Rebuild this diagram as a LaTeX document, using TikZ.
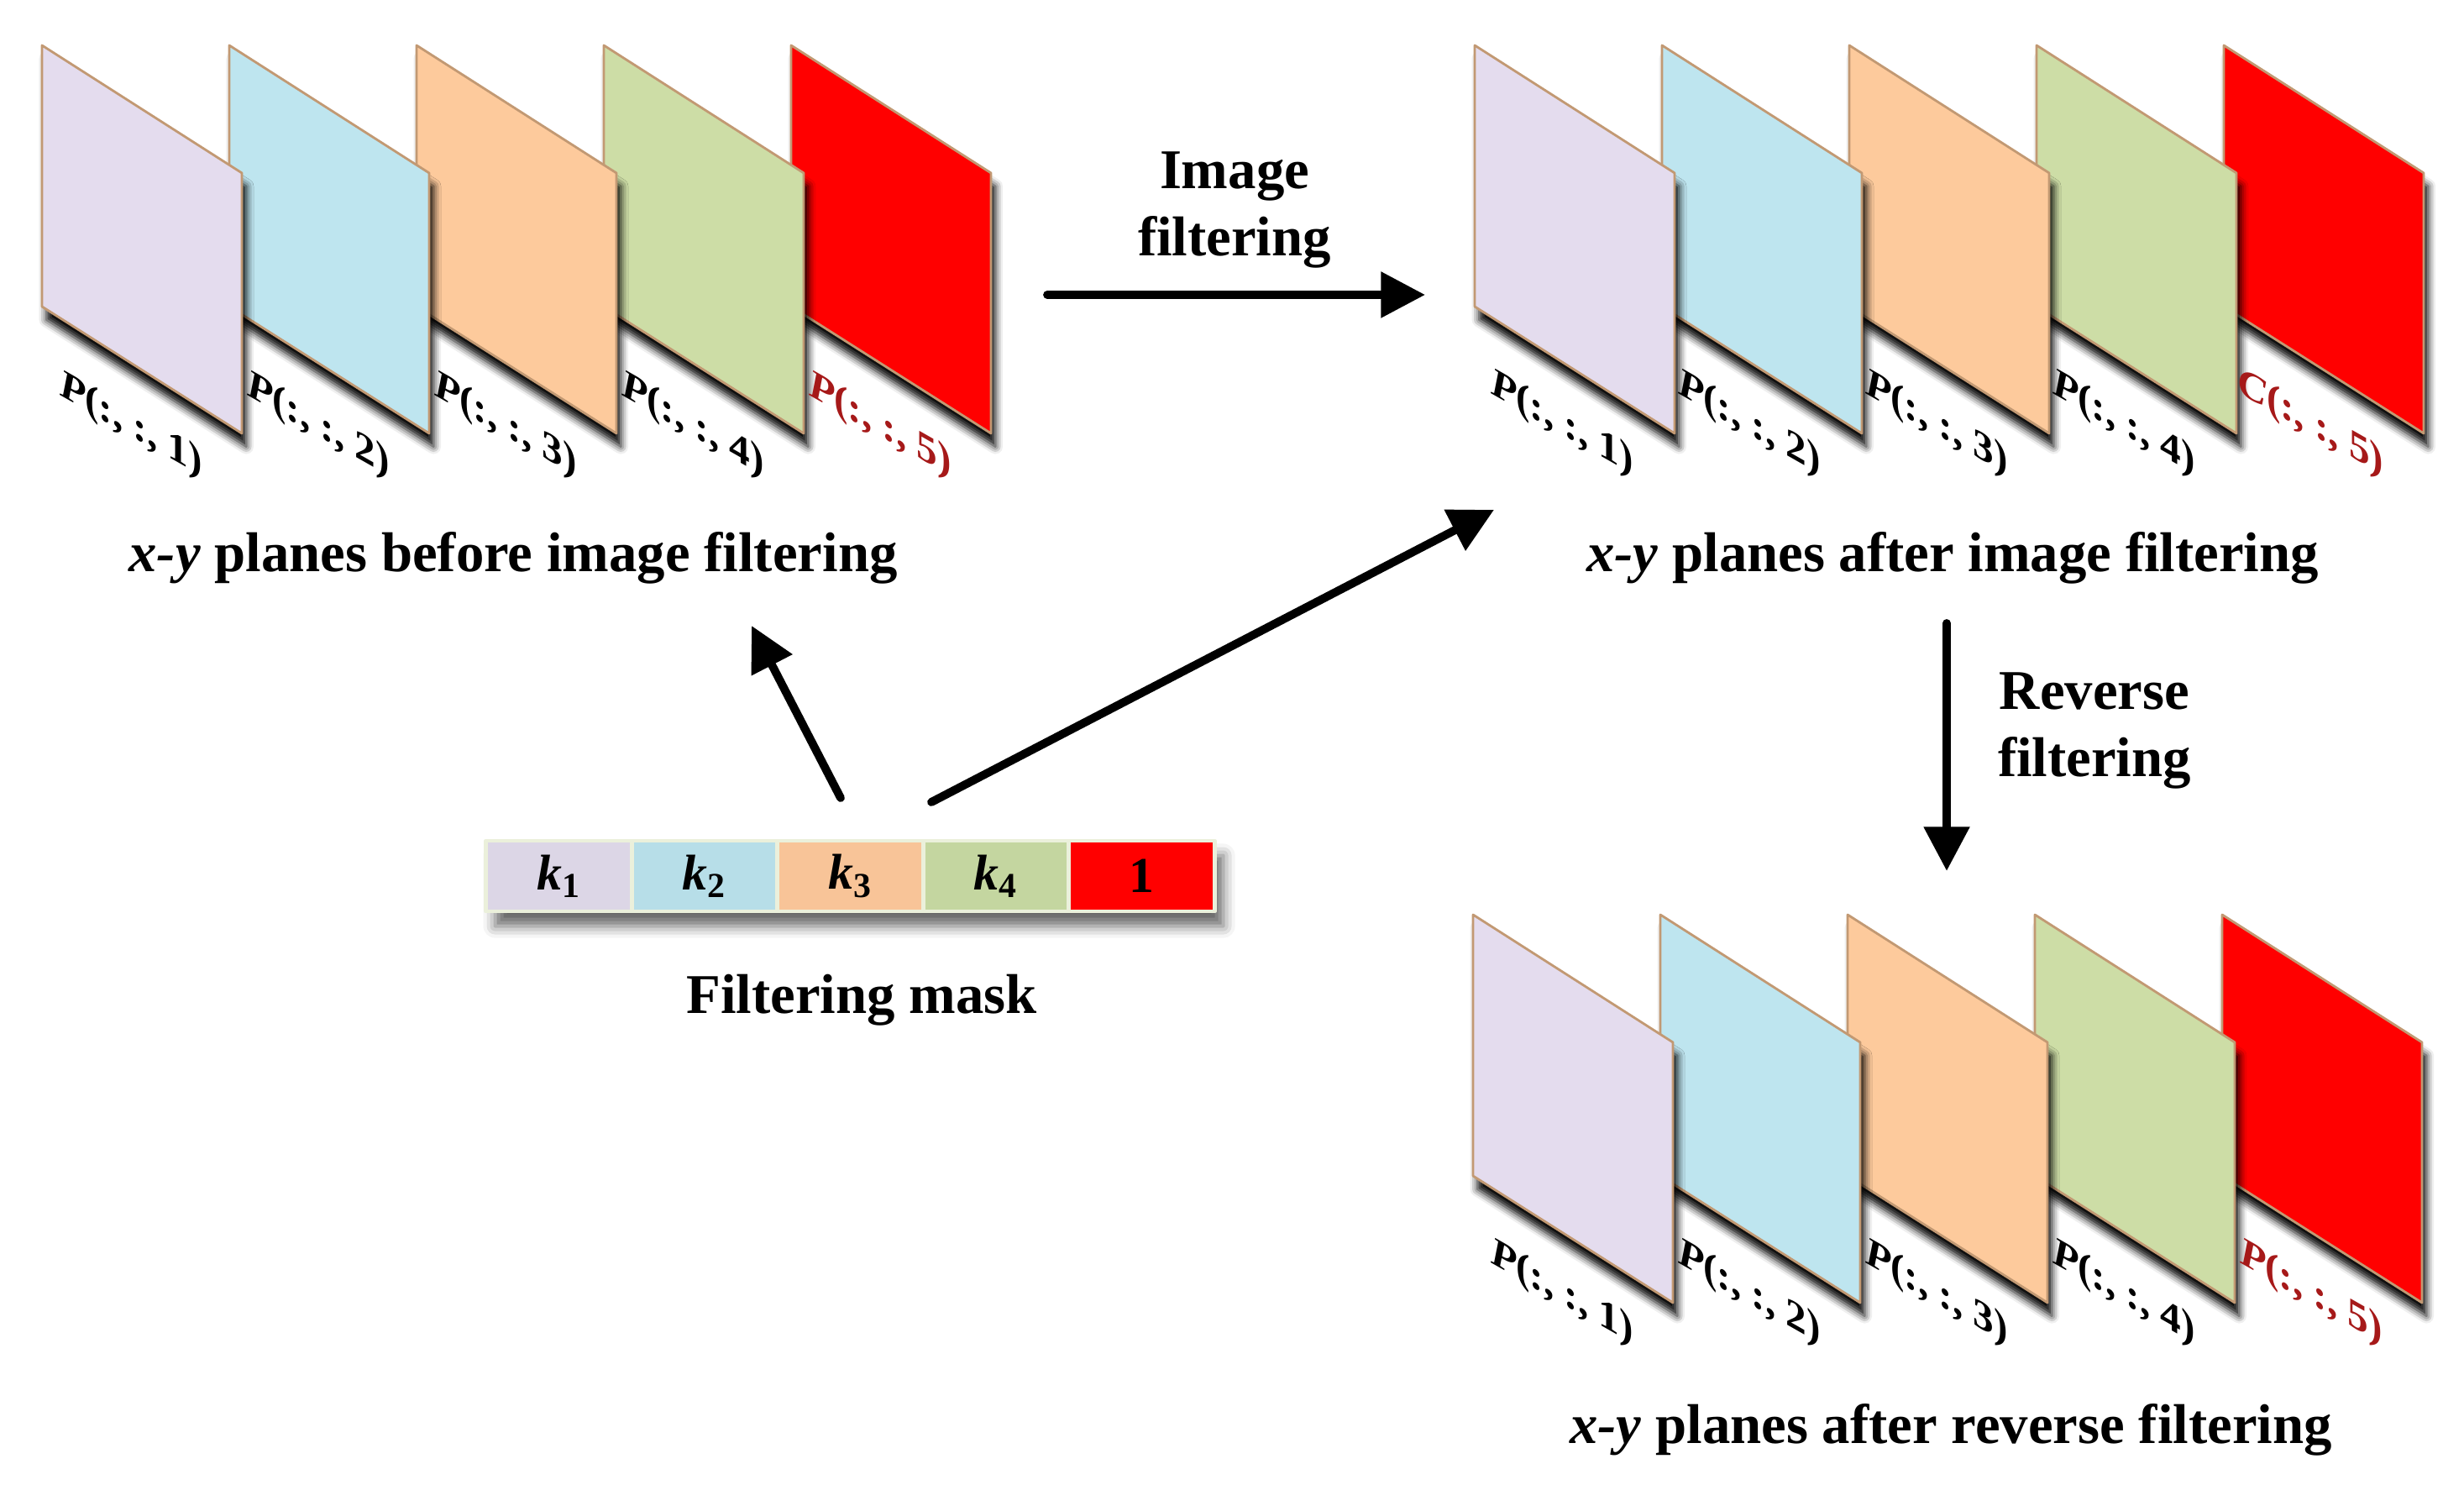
\documentclass[tikz,border=0pt]{standalone}
\usepackage{amsmath}
\usepackage{fontspec}
\setmainfont{Liberation Serif}
\usetikzlibrary{arrows.meta,shadows.blur}
\definecolor{lilac}{rgb}{0.894,0.863,0.933}
\definecolor{skyb}{rgb}{0.745,0.898,0.937}
\definecolor{peach}{rgb}{0.992,0.792,0.612}
\definecolor{sage}{rgb}{0.804,0.867,0.651}
\definecolor{lilacm}{rgb}{0.863,0.839,0.902}
\definecolor{skybm}{rgb}{0.718,0.871,0.910}
\definecolor{peachm}{rgb}{0.973,0.769,0.596}
\definecolor{sagem}{rgb}{0.769,0.839,0.627}
\definecolor{rred}{rgb}{1.,0.,0.}
\definecolor{edgeb}{rgb}{0.76,0.60,0.45}
\definecolor{dred}{rgb}{0.65,0.1,0.1}
\definecolor{maskf}{rgb}{0.92,0.94,0.86}

\begin{document}
\begin{tikzpicture}[line cap=round,line join=round,>={Triangle[length=15pt,width=15pt,fill=black]},x=1.0cm,y=1.0cm,
  plane/.style={draw=edgeb,line width=0.8pt,blur shadow={shadow xshift=1.5pt,shadow yshift=-4.5pt,shadow blur radius=2.5pt,shadow opacity=100}},
  lab/.style={font=\fontsize{14}{16}\selectfont\bfseries,yslant=-0.57,transform shape,inner sep=1pt},
  txt/.style={font=\fontsize{19}{23}\selectfont\bfseries,inner sep=1pt},
  cell/.style={minimum width=1.735cm,minimum height=0.84cm,inner sep=0pt,draw=maskf,line width=1.4pt,font=\fontsize{17}{17}\selectfont},
  flow/.style={->,line width=2.8pt,line join=miter}]
\useasboundingbox (0,0) rectangle (29.34,17.67);
% planes before filtering (drawn back to front)
\draw [plane,fill=rred] (9.42,17.13)-- (11.80,15.61)-- (11.80,12.51)-- (9.42,14.02)-- cycle;
\draw [plane,fill=sage] (7.19,17.13)-- (9.57,15.61)-- (9.57,12.51)-- (7.19,14.02)-- cycle;
\draw [plane,fill=peach] (4.96,17.13)-- (7.34,15.61)-- (7.34,12.51)-- (4.96,14.02)-- cycle;
\draw [plane,fill=skyb] (2.73,17.13)-- (5.11,15.61)-- (5.11,12.51)-- (2.73,14.02)-- cycle;
\draw [plane,fill=lilac] (0.50,17.13)-- (2.88,15.61)-- (2.88,12.51)-- (0.50,14.02)-- cycle;
\node [lab] (pa1) at (1.56,12.60) {\textit{P}(:, :, 1)};
\node [lab] (pa2) at (3.79,12.60) {\textit{P}(:, :, 2)};
\node [lab] (pa3) at (6.02,12.60) {\textit{P}(:, :, 3)};
\node [lab] (pa4) at (8.25,12.60) {\textit{P}(:, :, 4)};
\node [lab,text=dred] (pa5) at (10.48,12.60) {\textit{P}(:, :, 5)};
% planes after filtering
\draw [plane,fill=rred] (26.48,17.13)-- (28.86,15.61)-- (28.86,12.51)-- (26.48,14.02)-- cycle;
\draw [plane,fill=sage] (24.25,17.13)-- (26.63,15.61)-- (26.63,12.51)-- (24.25,14.02)-- cycle;
\draw [plane,fill=peach] (22.02,17.13)-- (24.40,15.61)-- (24.40,12.51)-- (22.02,14.02)-- cycle;
\draw [plane,fill=skyb] (19.79,17.13)-- (22.17,15.61)-- (22.17,12.51)-- (19.79,14.02)-- cycle;
\draw [plane,fill=lilac] (17.56,17.13)-- (19.94,15.61)-- (19.94,12.51)-- (17.56,14.02)-- cycle;
\node [lab] (pb1) at (18.60,12.62) {\textit{P}(:, :, 1)};
\node [lab] (pb2) at (20.83,12.62) {\textit{P}(:, :, 2)};
\node [lab] (pb3) at (23.06,12.62) {\textit{P}(:, :, 3)};
\node [lab] (pb4) at (25.29,12.62) {\textit{P}(:, :, 4)};
\node [lab,text=dred] (pb5) at (27.52,12.62) {\textit{C}(:, :, 5)};
% planes after reverse filtering
\draw [plane,fill=rred] (26.46,6.78)-- (28.84,5.26)-- (28.84,2.16)-- (26.46,3.67)-- cycle;
\draw [plane,fill=sage] (24.23,6.78)-- (26.61,5.26)-- (26.61,2.16)-- (24.23,3.67)-- cycle;
\draw [plane,fill=peach] (22.00,6.78)-- (24.38,5.26)-- (24.38,2.16)-- (22.00,3.67)-- cycle;
\draw [plane,fill=skyb] (19.77,6.78)-- (22.15,5.26)-- (22.15,2.16)-- (19.77,3.67)-- cycle;
\draw [plane,fill=lilac] (17.54,6.78)-- (19.92,5.26)-- (19.92,2.16)-- (17.54,3.67)-- cycle;
\node [lab] (pc1) at (18.60,2.27) {\textit{P}(:, :, 1)};
\node [lab] (pc2) at (20.83,2.27) {\textit{P}(:, :, 2)};
\node [lab] (pc3) at (23.06,2.27) {\textit{P}(:, :, 3)};
\node [lab] (pc4) at (25.29,2.27) {\textit{P}(:, :, 4)};
\node [lab,text=dred] (pc5) at (27.52,2.27) {\textit{P}(:, :, 5)};
% captions
\node [txt] (before) at (6.11,11.03) {\textit{x-y} planes before image filtering};
\node [txt] (after) at (23.25,11.03) {\textit{x-y} planes after image filtering};
\node [txt] (final) at (23.23,0.65) {\textit{x-y} planes after reverse filtering};
\node [txt,align=center] (imgfilt) at (14.70,15.17) {Image\\filtering};
\node [txt,align=center] (revfilt) at (24.94,8.97) {Reverse\\filtering};
% filtering mask
\fill [maskf,blur shadow={shadow xshift=3pt,shadow yshift=-5pt,shadow blur radius=4pt,shadow opacity=60}] (5.79,6.82) rectangle (14.46,7.66);
\node [cell,fill=lilacm] (k1) at (6.655,7.24) {\textbf{\textit{k}}$_{\textbf{1}}$};
\node [cell,fill=skybm] (k2) at (8.39,7.24) {\textbf{\textit{k}}$_{\textbf{2}}$};
\node [cell,fill=peachm] (k3) at (10.125,7.24) {\textbf{\textit{k}}$_{\textbf{3}}$};
\node [cell,fill=sagem] (k4) at (11.86,7.24) {\textbf{\textit{k}}$_{\textbf{4}}$};
\node [cell,fill=rred] (k5) at (13.595,7.24) {\textbf{1}};
\node [txt] (maskname) at (10.26,5.76) {Filtering mask};
% arrows
\coordinate (h0) at (12.47,14.16);
\coordinate (h1) at (16.97,14.16);
\coordinate (v0) at (23.18,10.25);
\coordinate (v1) at (23.18,7.30);
\coordinate (s0) at (10.01,8.17);
\coordinate (s1) at (8.95,10.22);
\coordinate (l0) at (11.09,8.12);
\coordinate (l1) at (17.79,11.60);
\draw [flow] (h0) -- (h1);
\draw [flow] (v0) -- (v1);
\draw [flow] (s0) -- (s1);
\draw [flow] (l0) -- (l1);
\end{tikzpicture}
\end{document}
